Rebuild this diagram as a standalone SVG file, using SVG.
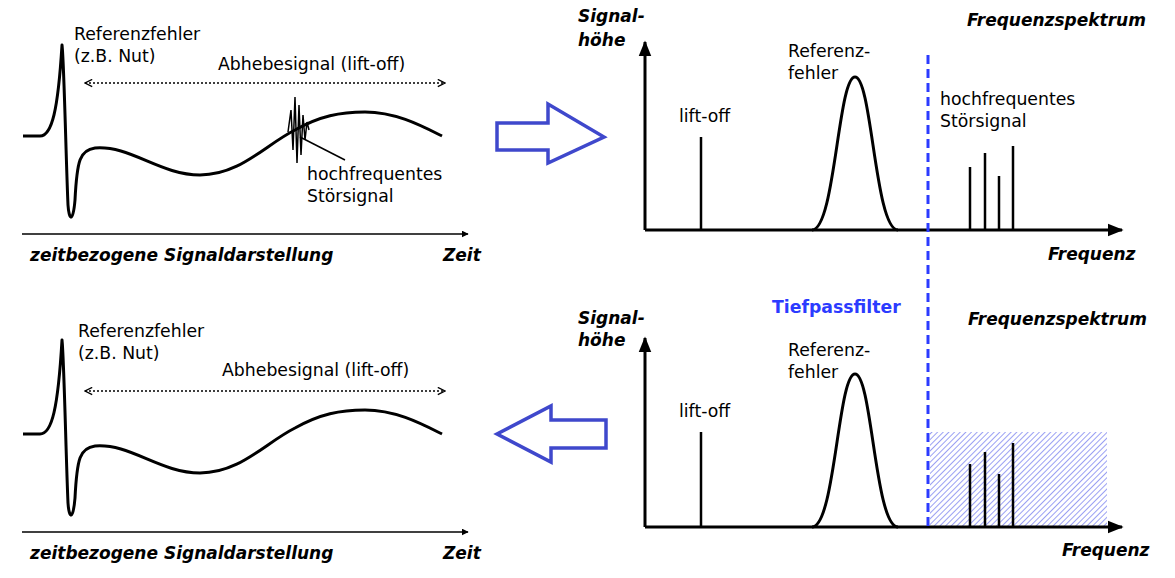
<svg xmlns="http://www.w3.org/2000/svg" width="1175" height="578" viewBox="0 0 1175 578">
<defs>
<marker id="ah" viewBox="0 0 10 10" refX="9" refY="5" markerWidth="7" markerHeight="7" orient="auto-start-reverse" markerUnits="userSpaceOnUse"><path d="M0,0 L10,5 L0,10 z" fill="#000"/></marker>
<marker id="ab" viewBox="0 0 10 10" refX="9" refY="5" markerWidth="16" markerHeight="16" orient="auto-start-reverse" markerUnits="userSpaceOnUse"><path d="M0,1 L10,5 L0,9 z" fill="#000"/></marker>
<marker id="ad" viewBox="0 0 10 10" refX="9" refY="5" markerWidth="9" markerHeight="9" orient="auto-start-reverse" markerUnits="userSpaceOnUse"><path d="M1,1 L9,5 L1,9" fill="none" stroke="#000" stroke-width="1.5"/></marker>
<pattern id="hatch" patternUnits="userSpaceOnUse" width="4" height="4" patternTransform="rotate(45)"><line x1="0" y1="0" x2="0" y2="4" stroke="#8088f0" stroke-width="1.6"/></pattern>
</defs>
<style>
text{font-family:"DejaVu Sans",sans-serif;font-size:17.3px;fill:#000}
.b{font-weight:bold;font-style:italic;font-size:17px}
.sig{fill:none;stroke:#000;stroke-width:3;stroke-linejoin:round}
.ax{stroke:#000;stroke-width:1.5;fill:none}
.ax2{stroke:#000;stroke-width:3;fill:none}
.dot{stroke:#000;stroke-width:1.5;stroke-dasharray:2,2;fill:none}
.sp{stroke:#000;stroke-width:2.5}
.big{fill:#fff;stroke:#3f48cc;stroke-width:3.5}
</style>
<g id="time-top">
<line class="ax" x1="22" y1="234" x2="468" y2="234" marker-end="url(#ah)"/>
<path class="sig" d="M23,136 L40,136 C52,136 58,110 62,45 C64,60 66,160 68,205 C69,220 73,224 75,200 C77,160 80,150 95,148 C130,145 160,175 200,175 C240,175 265,145 295,130 C320,116 340,112 365,112 C395,112 420,125 442,136"/>
<path fill="none" stroke="#000" stroke-width="1.5" d="M288,132 L291,110 L293,150 L295,97 L297,163 L299,105 L301,155 L303,115 L305,140 L307,122 L309,130"/>
<line stroke="#000" stroke-width="1.5" x1="300" y1="137" x2="345" y2="160"/>
<line class="dot" x1="85" y1="83" x2="445" y2="83" marker-start="url(#ad)" marker-end="url(#ad)"/>
<text x="74" y="40">Referenzfehler</text><text x="74" y="62">(z.B. Nut)</text>
<text x="218" y="70">Abhebesignal (lift-off)</text>
<text x="307" y="180">hochfrequentes</text><text x="307" y="202">Störsignal</text>
<text class="b" x="30" y="261">zeitbezogene Signaldarstellung</text>
<text class="b" x="443" y="261">Zeit</text>
</g>
<g id="time-bottom">
<line class="ax" x1="22" y1="532" x2="468" y2="532" marker-end="url(#ah)"/>
<path class="sig" d="M23,434 L40,434 C52,434 58,408 62,340 C64,358 66,458 68,503 C69,518 73,522 75,498 C77,458 80,448 95,446 C130,443 160,473 200,473 C240,473 265,443 295,428 C320,414 340,410 365,410 C395,410 420,423 442,434"/>
<line class="dot" x1="85" y1="391" x2="445" y2="391" marker-start="url(#ad)" marker-end="url(#ad)"/>
<text x="78" y="337">Referenzfehler</text><text x="78" y="359">(z.B. Nut)</text>
<text x="222" y="376">Abhebesignal (lift-off)</text>
<text class="b" x="30" y="559">zeitbezogene Signaldarstellung</text>
<text class="b" x="443" y="559">Zeit</text>
</g>
<g id="arrow-right"><path class="big" d="M497,123 L548,123 L548,104 L604,137 L548,163 L548,150 L497,150 z"/></g>
<g id="arrow-left"><path class="big" d="M606,420 L551,420 L551,406 L497,434 L551,462 L551,448 L606,448 z"/></g>
<g id="spec-top">
<line class="ax2" x1="645" y1="230" x2="645" y2="42" marker-end="url(#ab)"/>
<line class="ax2" x1="645" y1="230" x2="1122" y2="230" marker-end="url(#ab)"/>
<line class="sp" x1="701" y1="137" x2="701" y2="230"/>
<path class="sig" d="M812,230 C835,230 838,77 855,77 C872,77 875,230 898,230"/>
<line class="sp" x1="970" y1="167" x2="970" y2="230"/><line class="sp" x1="985" y1="153" x2="985" y2="230"/><line class="sp" x1="999" y1="176" x2="999" y2="230"/><line class="sp" x1="1013" y1="146" x2="1013" y2="230"/>
<text class="b" x="578" y="22">Signal-</text><text class="b" x="578" y="46">höhe</text>
<text class="b" x="967" y="26">Frequenzspektrum</text>
<text x="788" y="57">Referenz-</text><text x="788" y="79">fehler</text>
<text x="679" y="122">lift-off</text>
<text x="940" y="105">hochfrequentes</text><text x="940" y="127">Störsignal</text>
<text class="b" x="1048" y="260">Frequenz</text>
</g>
<g id="spec-bottom">
<rect x="930" y="432" width="177" height="95" fill="url(#hatch)"/>
<line class="ax2" x1="645" y1="527" x2="645" y2="338" marker-end="url(#ab)"/>
<line class="ax2" x1="645" y1="527" x2="1122" y2="527" marker-end="url(#ab)"/>
<line class="sp" x1="701" y1="432" x2="701" y2="527"/>
<path class="sig" d="M812,527 C835,527 838,374 855,374 C872,374 875,527 898,527"/>
<line class="sp" x1="970" y1="464" x2="970" y2="527"/><line class="sp" x1="985" y1="452" x2="985" y2="527"/><line class="sp" x1="999" y1="474" x2="999" y2="527"/><line class="sp" x1="1013" y1="443" x2="1013" y2="527"/>
<text class="b" x="578" y="324">Signal-</text><text class="b" x="578" y="346">höhe</text>
<text class="b" x="968" y="325">Frequenzspektrum</text>
<text x="788" y="356">Referenz-</text><text x="788" y="378">fehler</text>
<text x="679" y="417">lift-off</text>
<text class="b" x="1062" y="556">Frequenz</text>
<text x="772" y="313" style="font-weight:bold;fill:#2b3bff">Tiefpassfilter</text>
</g>
<g id="connectors"><line x1="928" y1="55" x2="928" y2="527" stroke="#2b3bff" stroke-width="3" stroke-dasharray="9,5"/></g>
</svg>
